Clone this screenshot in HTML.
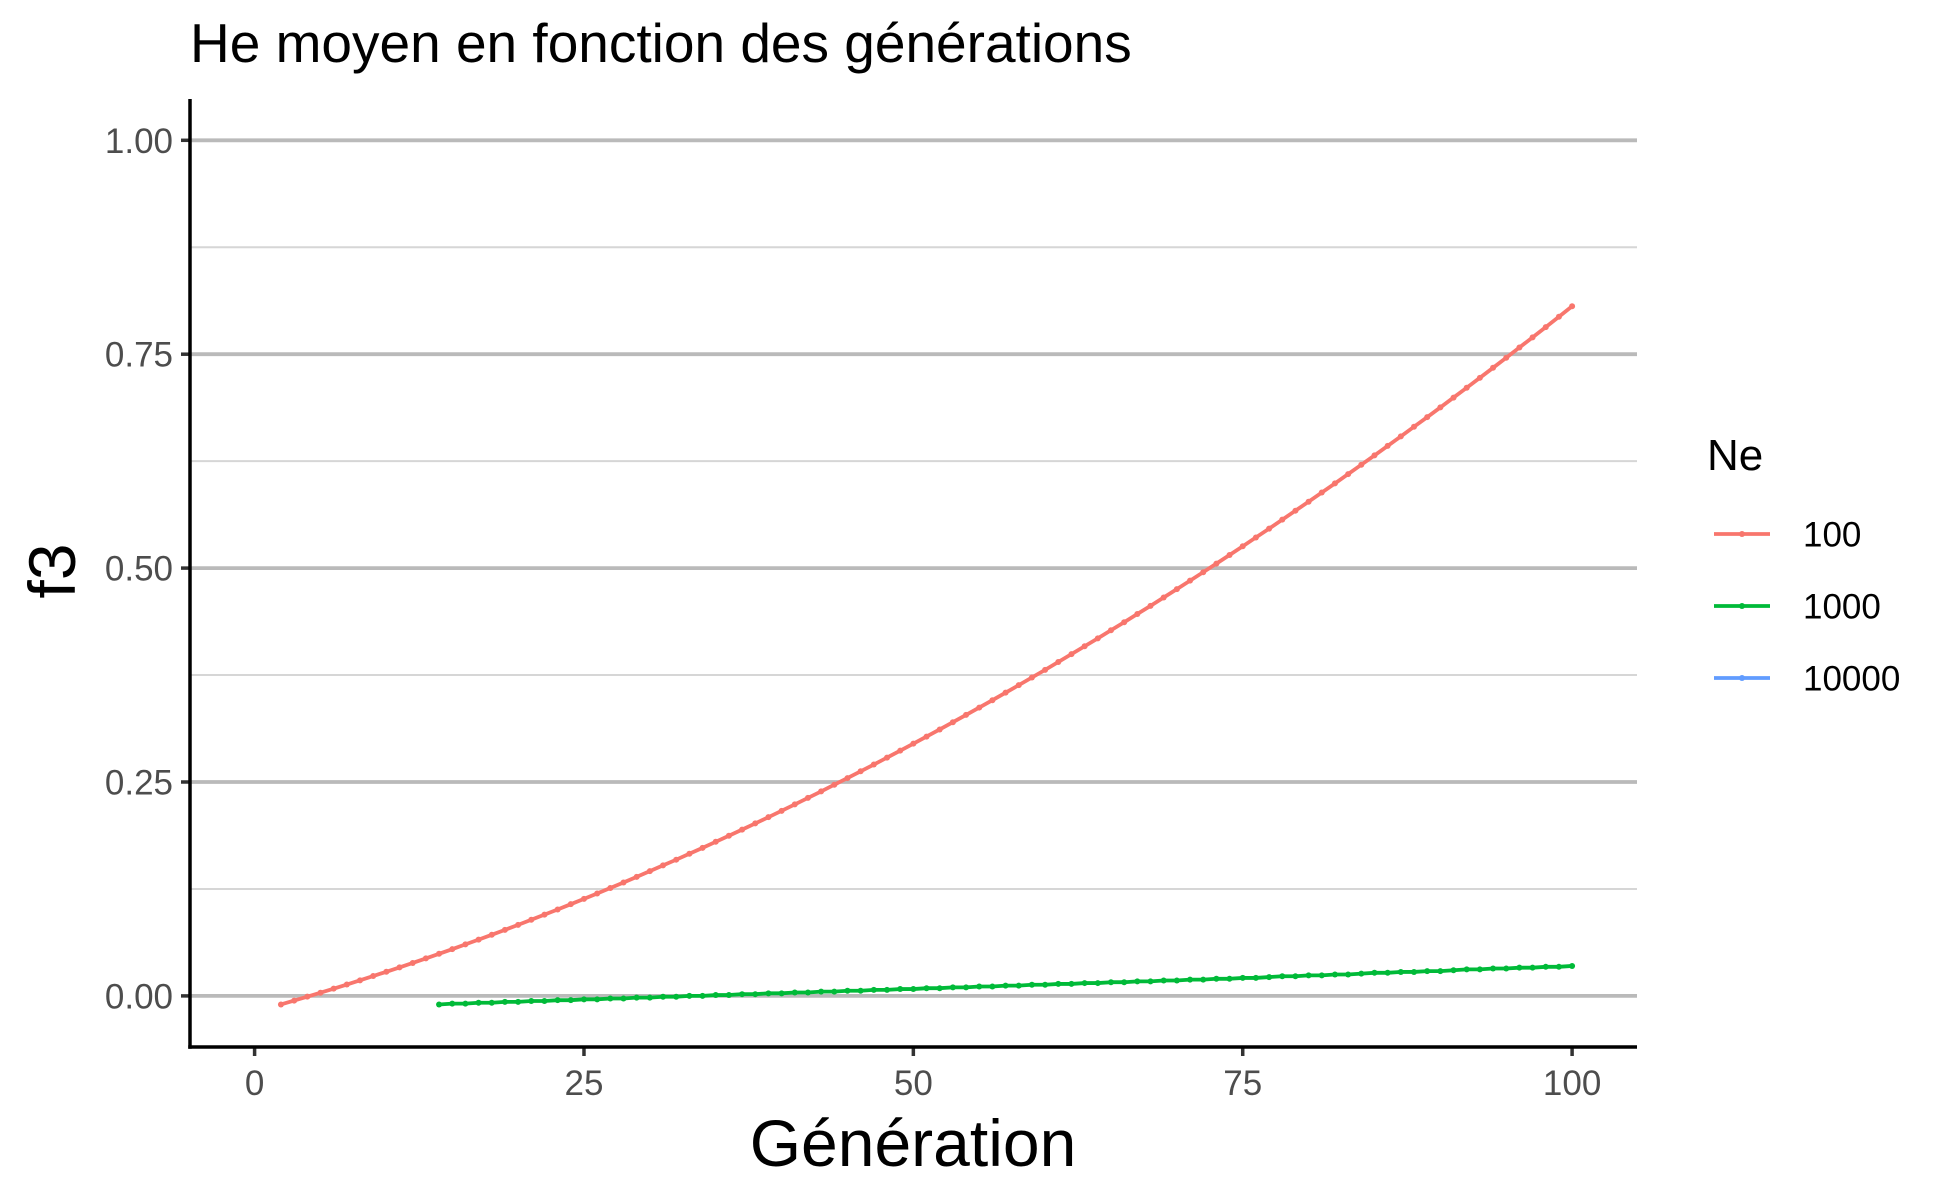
<!DOCTYPE html>
<html><head><meta charset="utf-8"><style>
html,body{margin:0;padding:0;background:#fff}
svg{display:block;font-family:"Liberation Sans",sans-serif}
</style></head><body>
<svg id="chart" width="1946" height="1203" viewBox="0 0 1946 1203">
<text x="190" y="62" font-size="55" fill="#000">He moyen en fonction des générations</text>
<g id="grid"></g>
<g id="series"></g>
<g id="axes"></g>
<text x="913" y="1166" font-size="66" text-anchor="middle" fill="#000">Génération</text>
<text transform="translate(75,571) rotate(-90)" font-size="66" text-anchor="middle" fill="#000">f3</text>
<g>
<text x="1707" y="470" font-size="44" fill="#000">Ne</text>
<g id="legend"></g>
</g>
</svg>
<script>
const xTicks=[0,25,50,75,100];
const yTicks=[0,0.25,0.5,0.75,1];
const yTickLabels=["0.00","0.25","0.50","0.75","1.00"];
const yMinor=[0.125,0.375,0.625,0.875];
const seriesNames=["100","1000","10000"];
const seriesColors=["#F8766D","#00BA38","#619CFF"];
const gen100Start=2;
const ne100=[-0.0100,-0.0055,-0.0009,0.0037,0.0085,0.0133,0.0182,0.0232,0.0282,0.0333,
0.0385,0.0438,0.0492,0.0546,0.0602,0.0658,0.0714,0.0772,0.0830,0.0890,
0.0950,0.1010,0.1072,0.1134,0.1197,0.1261,0.1326,0.1391,0.1458,0.1525,
0.1592,0.1661,0.1730,0.1801,0.1872,0.1943,0.2016,0.2089,0.2163,0.2238,
0.2314,0.2390,0.2468,0.2546,0.2625,0.2704,0.2785,0.2866,0.2948,0.3031,
0.3114,0.3199,0.3284,0.3370,0.3456,0.3544,0.3632,0.3721,0.3811,0.3902,
0.3994,0.4086,0.4179,0.4273,0.4367,0.4463,0.4559,0.4656,0.4754,0.4853,
0.4952,0.5052,0.5153,0.5255,0.5358,0.5461,0.5566,0.5671,0.5776,0.5883,
0.5990,0.6099,0.6208,0.6317,0.6428,0.6539,0.6652,0.6764,0.6878,0.6993,
0.7108,0.7224,0.7341,0.7459,0.7578,0.7697,0.7817,0.7938,0.8060];
const gen1000Start=14;
const ne1000=[-0.010,-0.009,-0.009,-0.008,-0.008,-0.007,-0.007,-0.006,-0.006,-0.005,-0.005,
-0.004,-0.004,-0.003,-0.003,-0.002,-0.002,-0.001,-0.001,0.000,0.000,
0.001,0.001,0.002,0.002,0.003,0.003,0.004,0.004,0.005,0.005,
0.006,0.006,0.007,0.007,0.008,0.008,0.009,0.009,0.010,0.010,
0.011,0.011,0.012,0.012,0.013,0.013,0.014,0.014,0.015,0.015,
0.016,0.016,0.017,0.017,0.018,0.018,0.019,0.019,0.020,0.020,
0.021,0.021,0.022,0.023,0.023,0.024,0.024,0.025,0.025,0.026,
0.027,0.027,0.028,0.028,0.029,0.029,0.030,0.031,0.031,0.032,
0.032,0.033,0.033,0.034,0.034,0.035];

const NS="http://www.w3.org/2000/svg";
const L=190,R=1637,T=99,B=1047;
const X=v=>254.6+(1572.1-254.6)*v/100;
const Y=v=>995.9-(995.9-140.3)*v;
function mk(tag,attrs,parent){const e=document.createElementNS(NS,tag);for(const k in attrs)e.setAttribute(k,attrs[k]);parent.appendChild(e);return e;}
const grid=document.getElementById('grid'),axes=document.getElementById('axes'),ser=document.getElementById('series'),leg=document.getElementById('legend');
yMinor.forEach(v=>{const l=mk('line',{x1:L,x2:R,y1:Y(v),y2:Y(v),stroke:'#d6d6d6','stroke-width':2},grid);

});
yTicks.forEach((v,i)=>{const l=mk('line',{x1:L,x2:R,y1:Y(v),y2:Y(v),stroke:'#bababa','stroke-width':3.8},grid);


const t=mk('line',{x1:L-9,x2:L,y1:Y(v),y2:Y(v),stroke:'#333','stroke-width':3.5},axes);


const tx=mk('text',{x:L-17,y:Y(v)+12.5,'font-size':35,'text-anchor':'end',fill:'#4d4d4d'},axes);tx.textContent=yTickLabels[i];

});
xTicks.forEach(v=>{const t=mk('line',{x1:X(v),x2:X(v),y1:B,y2:B+9,stroke:'#333','stroke-width':3.5},axes);


const tx=mk('text',{x:X(v),y:B+48,'font-size':35,'text-anchor':'middle',fill:'#4d4d4d'},axes);tx.textContent=String(v);

});
const ya=mk('line',{x1:L,x2:L,y1:T,y2:B+1.75,stroke:'#000','stroke-width':3.5},axes);


const xa=mk('line',{x1:L-1.75,x2:R,y1:B,y2:B,stroke:'#000','stroke-width':3.5},axes);


function draw(vals,start,color,name){
 const g=mk('g',{},ser);
 
 
 const pts=vals.map((v,i)=>X(start+i).toFixed(2)+','+Y(v).toFixed(2)).join(' ');
 const pl=mk('polyline',{points:pts,fill:'none',stroke:color,'stroke-width':3.8,'stroke-linejoin':'round'},g);
 
 
 vals.forEach((v,i)=>{const c=mk('circle',{cx:X(start+i),cy:Y(v),r:3,fill:color},g);
 
 });
}
draw(ne100,gen100Start,seriesColors[0],'ne-100');
draw(ne1000,gen1000Start,seriesColors[1],'ne-1000');
seriesNames.forEach((n,i)=>{const y=534+i*72;
 const g=mk('g',{},leg);
 
 
 mk('line',{x1:1714,x2:1770,y1:y,y2:y,stroke:seriesColors[i],'stroke-width':3.8},g);
 mk('circle',{cx:1742,cy:y,r:3,fill:seriesColors[i]},g);
 const t=mk('text',{x:1803,y:y+12.5,'font-size':35,fill:'#000'},g);t.textContent=n;});
</script>
</body></html>
